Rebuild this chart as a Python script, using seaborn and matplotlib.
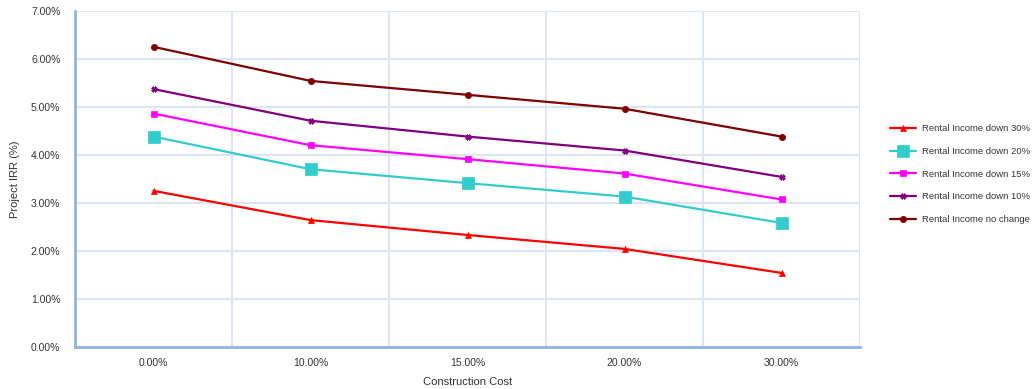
import matplotlib
matplotlib.use("Agg")
import matplotlib.pyplot as plt
import seaborn as sns
import pandas as pd
from matplotlib.ticker import FixedLocator, FuncFormatter

categories = ["0.00%", "10.00%", "15.00%", "20.00%", "30.00%"]
down30 = [3.26, 2.65, 2.34, 2.05, 1.55]
down20 = [4.39, 3.71, 3.42, 3.14, 2.59]
down15 = [4.87, 4.21, 3.92, 3.62, 3.08]
down10 = [5.38, 4.72, 4.39, 4.10, 3.55]
nochange = [6.26, 5.55, 5.26, 4.97, 4.39]
series_names = ["Rental Income down 30%", "Rental Income down 20%",
                "Rental Income down 15%", "Rental Income down 10%",
                "Rental Income no change"]
series_values = [down30, down20, down15, down10, nochange]

styles = {
    "Rental Income down 30%": dict(color="#ff0000", marker="^", ms=4.5),
    "Rental Income down 20%": dict(color="#33cccc", marker="s", ms=8.5),
    "Rental Income down 15%": dict(color="#ff00ff", marker="s", ms=5),
    "Rental Income down 10%": dict(color="#800080", marker="X", ms=4),
    "Rental Income no change": dict(color="#800000", marker="o", ms=4.5),
}

rows = []
for name, vals in zip(series_names, series_values):
    for i, (c, v) in enumerate(zip(categories, vals)):
        rows.append(dict(series=name, pos=i, cost=c, irr=v))
df = pd.DataFrame(rows)

sns.set_style("white")
plt.rcParams['font.family'] = ['Liberation Sans', 'DejaVu Sans']
text_color = "#333333"

fig = plt.figure(figsize=(10.35, 3.89), dpi=100)
ax = fig.add_axes([75/1035, 1-347.3/389, (860-75)/1035, (347.3-11.3)/389])

for name in series_names:
    st = styles[name]
    sub = df[df.series == name]
    sns.lineplot(data=sub, x="pos", y="irr", ax=ax, color=st["color"],
                 marker=st["marker"], markersize=st["ms"], linewidth=1.6,
                 markeredgecolor=st["color"], markeredgewidth=0.5, label=name)

ax.set_xlim(-0.5, len(categories) - 0.5)
ax.set_ylim(0, 7)
ax.xaxis.set_major_locator(FixedLocator(range(len(categories))))
ax.set_xticklabels(categories)
ax.xaxis.set_minor_locator(FixedLocator([i + 0.5 for i in range(len(categories))]))
ax.set_yticks([i for i in range(8)])
ax.yaxis.set_major_formatter(FuncFormatter(lambda v, p: f"{v:.2f}%"))

ax.grid(False)
ax.grid(axis="y", which="major", color="#dce6f2", linewidth=1.5)
ax.grid(axis="x", which="minor", color="#dce6f2", linewidth=1.5)
ax.set_axisbelow(True)

for s in ["top", "right"]:
    ax.spines[s].set_visible(False)
for s in ["left", "bottom"]:
    ax.spines[s].set_color("#8eb4e3")
    ax.spines[s].set_linewidth(2)

ax.tick_params(axis="y", which="major", length=2.5, width=1.5, color="#8eb4e3",
               labelsize=7.5, labelcolor=text_color, pad=8)
ax.tick_params(axis="x", which="major", length=0, labelsize=7.5,
               labelcolor=text_color, pad=8)
ax.tick_params(axis="x", which="minor", length=0)

ax.set_xlabel("Construction Cost", fontsize=8, color=text_color, labelpad=6)
ax.set_ylabel("Project IRR (%)", fontsize=8, color=text_color, labelpad=8)

leg = ax.legend(loc="upper left", bbox_to_anchor=(1.033, 0.675), frameon=False,
                fontsize=6.8, handlelength=2.8, labelspacing=1.45,
                handletextpad=0.6, borderaxespad=0)
for t in leg.get_texts():
    t.set_color(text_color)

fig.savefig("out.png", dpi=100)
